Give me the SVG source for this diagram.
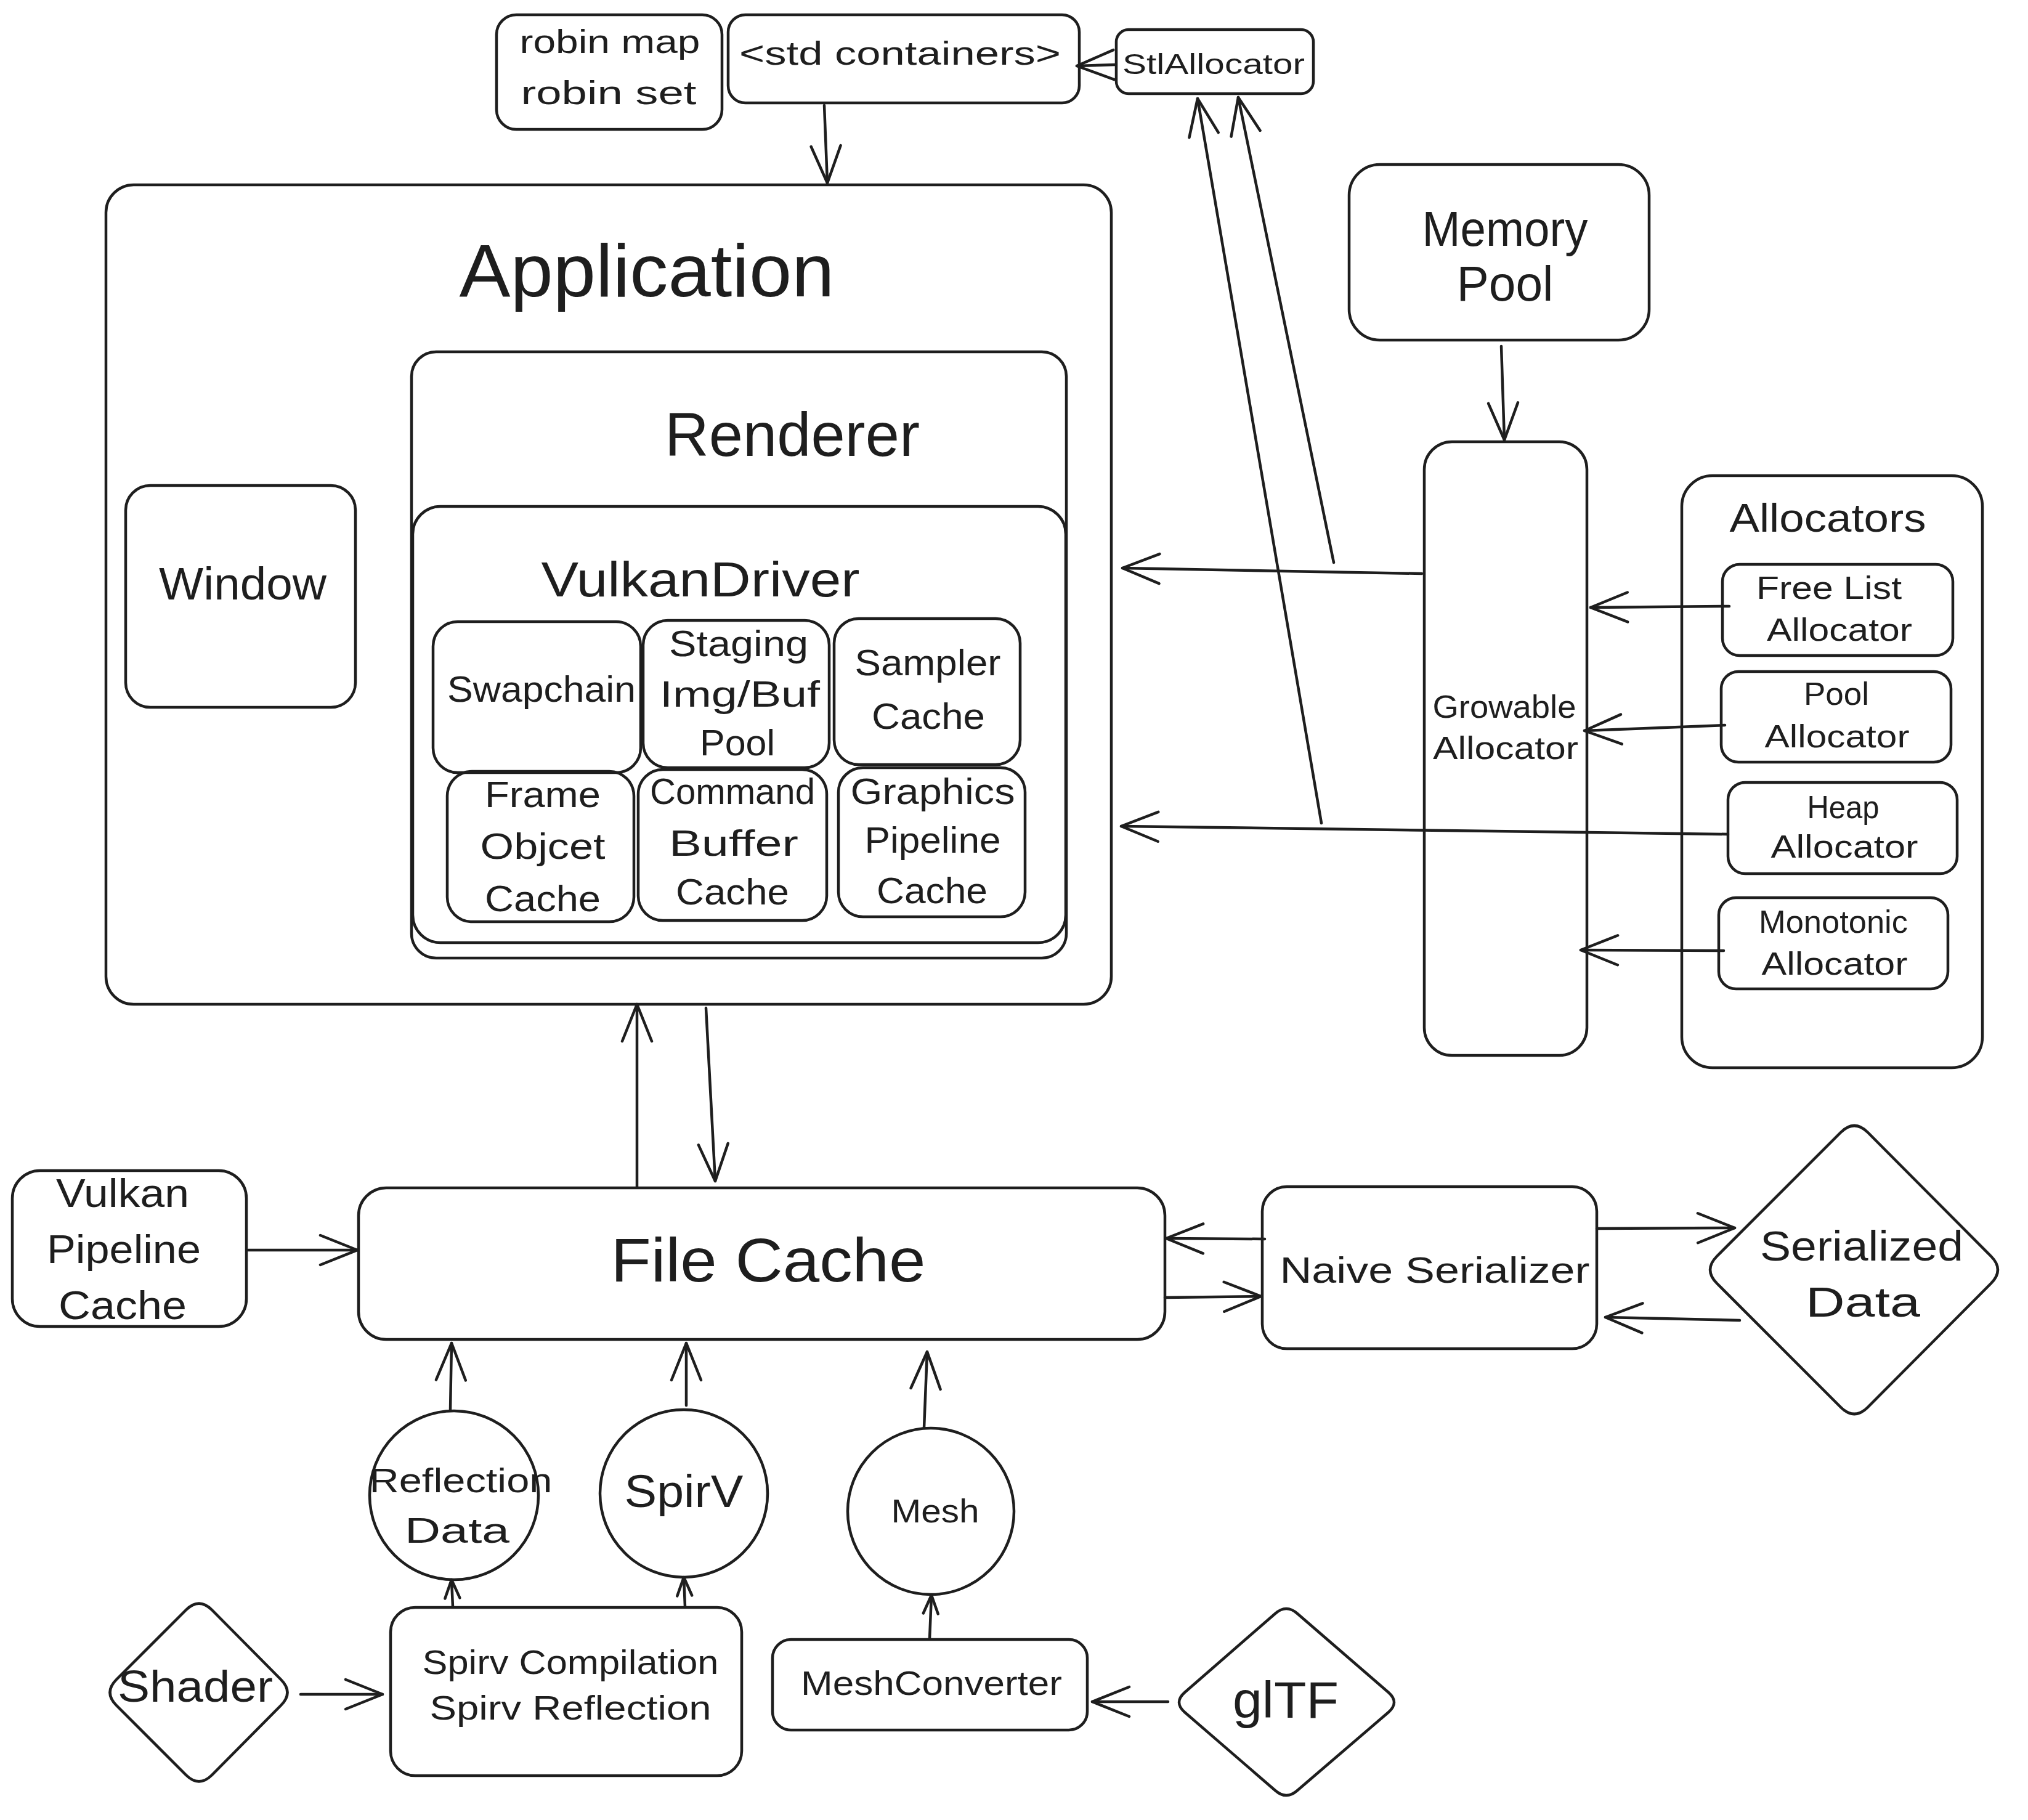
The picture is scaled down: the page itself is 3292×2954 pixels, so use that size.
<svg xmlns="http://www.w3.org/2000/svg" width="3292" height="2954" viewBox="0 0 3292 2954">
<style>
.n{fill:none;stroke:#1e1e1e;stroke-width:4.5;stroke-linejoin:round}
.t{font-family:"Liberation Sans",Arial,sans-serif;fill:#1e1e1e;text-anchor:middle}
.c{fill:none;stroke:#1e1e1e;stroke-width:4.5;stroke-linecap:round;marker-end:url(#ah)}
.cs{fill:none;stroke:#1e1e1e;stroke-width:4.5;stroke-linecap:round;marker-end:url(#ahs)}
</style>
<defs>
<marker id="ah" markerUnits="userSpaceOnUse" markerWidth="80" markerHeight="60" refX="62" refY="26" orient="auto" overflow="visible">
<path d="M2,2 L62,26 L2,50" fill="none" stroke="#1e1e1e" stroke-width="4.5" stroke-linecap="round" stroke-linejoin="round"/>
</marker>
<marker id="ahs" markerUnits="userSpaceOnUse" markerWidth="40" markerHeight="32" refX="32" refY="14" orient="auto" overflow="visible">
<path d="M2,2 L32,14 L2,26" fill="none" stroke="#1e1e1e" stroke-width="4.5" stroke-linecap="round" stroke-linejoin="round"/>
</marker>
</defs>
<rect width="3292" height="2954" fill="#ffffff"/>

<g id="robin">
<rect class="n" x="806" y="24" width="366" height="186" rx="32"/>
<text class="t" x="990" y="86" font-size="54" textLength="293" lengthAdjust="spacingAndGlyphs">robin map</text>
<text class="t" x="988" y="169" font-size="54" textLength="285" lengthAdjust="spacingAndGlyphs">robin set</text>
</g>
<g id="std-containers">
<rect class="n" x="1182" y="24" width="570" height="143" rx="28"/>
<text class="t" x="1461" y="105" font-size="54" textLength="522" lengthAdjust="spacingAndGlyphs">&lt;std containers&gt;</text>
</g>
<g id="stl-allocator">
<rect class="n" x="1812" y="48" width="320" height="104" rx="20"/>
<text class="t" x="1970" y="120" font-size="46" textLength="296" lengthAdjust="spacingAndGlyphs">StlAllocator</text>
</g>

<g id="application">
<rect class="n" x="172" y="300" width="1632" height="1330" rx="45"/>
<text class="t" x="1050" y="481" font-size="120" textLength="609" lengthAdjust="spacingAndGlyphs">Application</text>
</g>
<g id="window">
<rect class="n" x="204" y="788" width="373" height="360" rx="40"/>
<text class="t" x="394" y="973" font-size="74" textLength="272" lengthAdjust="spacingAndGlyphs">Window</text>
</g>
<g id="renderer">
<rect class="n" x="668" y="571" width="1063" height="984" rx="40"/>
<text class="t" x="1286" y="740" font-size="100" textLength="414" lengthAdjust="spacingAndGlyphs">Renderer</text>
</g>
<g id="vulkan-driver">
<rect class="n" x="670" y="822" width="1060" height="708" rx="45"/>
<text class="t" x="1137" y="968" font-size="80" textLength="517" lengthAdjust="spacingAndGlyphs">VulkanDriver</text>
</g>
<g id="swapchain">
<rect class="n" x="703" y="1009" width="337" height="245" rx="40"/>
<text class="t" x="879" y="1139" font-size="60" textLength="306" lengthAdjust="spacingAndGlyphs">Swapchain</text>
</g>
<g id="staging">
<rect class="n" x="1044" y="1007" width="302" height="239" rx="40"/>
<text class="t" x="1199" y="1065" font-size="60" textLength="226" lengthAdjust="spacingAndGlyphs">Staging</text>
<text class="t" x="1201" y="1147" font-size="60" textLength="260" lengthAdjust="spacingAndGlyphs">Img/Buf</text>
<text class="t" x="1197" y="1226" font-size="60" textLength="122" lengthAdjust="spacingAndGlyphs">Pool</text>
</g>
<g id="sampler-cache">
<rect class="n" x="1354" y="1004" width="302" height="237" rx="40"/>
<text class="t" x="1506" y="1096" font-size="60" textLength="237" lengthAdjust="spacingAndGlyphs">Sampler</text>
<text class="t" x="1507" y="1183" font-size="60" textLength="184" lengthAdjust="spacingAndGlyphs">Cache</text>
</g>
<g id="frame-object-cache">
<rect class="n" x="726" y="1252" width="303" height="244" rx="40"/>
<text class="t" x="881" y="1310" font-size="60" textLength="188" lengthAdjust="spacingAndGlyphs">Frame</text>
<text class="t" x="881" y="1394" font-size="60" textLength="203" lengthAdjust="spacingAndGlyphs">Objcet</text>
<text class="t" x="881" y="1479" font-size="60" textLength="188" lengthAdjust="spacingAndGlyphs">Cache</text>
</g>
<g id="command-buffer-cache">
<rect class="n" x="1036" y="1249" width="306" height="245" rx="40"/>
<text class="t" x="1189" y="1305" font-size="60" textLength="268" lengthAdjust="spacingAndGlyphs">Command</text>
<text class="t" x="1191" y="1389" font-size="60" textLength="210" lengthAdjust="spacingAndGlyphs">Buffer</text>
<text class="t" x="1189" y="1468" font-size="60" textLength="184" lengthAdjust="spacingAndGlyphs">Cache</text>
</g>
<g id="graphics-pipeline-cache">
<rect class="n" x="1361" y="1246" width="303" height="242" rx="40"/>
<text class="t" x="1514" y="1305" font-size="60" textLength="267" lengthAdjust="spacingAndGlyphs">Graphics</text>
<text class="t" x="1514" y="1384" font-size="60" textLength="221" lengthAdjust="spacingAndGlyphs">Pipeline</text>
<text class="t" x="1513" y="1466" font-size="60" textLength="180" lengthAdjust="spacingAndGlyphs">Cache</text>
</g>

<g id="memory-pool">
<rect class="n" x="2190" y="267" width="487" height="285" rx="50"/>
<text class="t" x="2443" y="399" font-size="80" textLength="269" lengthAdjust="spacingAndGlyphs">Memory</text>
<text class="t" x="2443" y="488" font-size="80" textLength="157" lengthAdjust="spacingAndGlyphs">Pool</text>
</g>
<g id="growable-allocator">
<rect class="n" x="2312" y="717" width="264" height="996" rx="45"/>
<text class="t" x="2442" y="1165" font-size="52" textLength="233" lengthAdjust="spacingAndGlyphs">Growable</text>
<text class="t" x="2444" y="1232" font-size="52" textLength="236" lengthAdjust="spacingAndGlyphs">Allocator</text>
</g>
<g id="allocators">
<rect class="n" x="2730" y="772" width="488" height="961" rx="50"/>
<text class="t" x="2967" y="863" font-size="64" textLength="319" lengthAdjust="spacingAndGlyphs">Allocators</text>
</g>
<g id="free-list-allocator">
<rect class="n" x="2796" y="916" width="374" height="148" rx="28"/>
<text class="t" x="2969" y="972" font-size="52" textLength="236" lengthAdjust="spacingAndGlyphs">Free List</text>
<text class="t" x="2986" y="1040" font-size="52" textLength="236" lengthAdjust="spacingAndGlyphs">Allocator</text>
</g>
<g id="pool-allocator">
<rect class="n" x="2794" y="1090" width="373" height="147" rx="28"/>
<text class="t" x="2981" y="1144" font-size="52" textLength="106" lengthAdjust="spacingAndGlyphs">Pool</text>
<text class="t" x="2982" y="1213" font-size="52" textLength="235" lengthAdjust="spacingAndGlyphs">Allocator</text>
</g>
<g id="heap-allocator">
<rect class="n" x="2805" y="1270" width="372" height="148" rx="28"/>
<text class="t" x="2992" y="1328" font-size="52" textLength="117" lengthAdjust="spacingAndGlyphs">Heap</text>
<text class="t" x="2994" y="1392" font-size="52" textLength="239" lengthAdjust="spacingAndGlyphs">Allocator</text>
</g>
<g id="monotonic-allocator">
<rect class="n" x="2790" y="1457" width="372" height="148" rx="28"/>
<text class="t" x="2976" y="1514" font-size="52" textLength="242" lengthAdjust="spacingAndGlyphs">Monotonic</text>
<text class="t" x="2978" y="1582" font-size="52" textLength="237" lengthAdjust="spacingAndGlyphs">Allocator</text>
</g>

<g id="vulkan-pipeline-cache">
<rect class="n" x="20" y="1900" width="380" height="253" rx="45"/>
<text class="t" x="199" y="1959" font-size="64" textLength="216" lengthAdjust="spacingAndGlyphs">Vulkan</text>
<text class="t" x="201" y="2050" font-size="64" textLength="250" lengthAdjust="spacingAndGlyphs">Pipeline</text>
<text class="t" x="199" y="2141" font-size="64" textLength="208" lengthAdjust="spacingAndGlyphs">Cache</text>
</g>
<g id="file-cache">
<rect class="n" x="582" y="1928" width="1309" height="246" rx="45"/>
<text class="t" x="1247" y="2080" font-size="100" textLength="511" lengthAdjust="spacingAndGlyphs">File Cache</text>
</g>
<g id="naive-serializer">
<rect class="n" x="2049" y="1926" width="543" height="263" rx="40"/>
<text class="t" x="2329" y="2082" font-size="60" textLength="503" lengthAdjust="spacingAndGlyphs">Naive Serializer</text>
</g>
<g id="serialized-data">
<path class="n" d="M2787,2039 L2988,1838 Q3010,1816 3032,1838 L3232,2039 Q3254,2061 3232,2083 L3032,2284 Q3010,2306 2988,2284 L2787,2083 Q2765,2061 2787,2039 Z"/>
<text class="t" x="3022" y="2046" font-size="68" textLength="330" lengthAdjust="spacingAndGlyphs">Serialized</text>
<text class="t" x="3024" y="2137" font-size="68" textLength="186" lengthAdjust="spacingAndGlyphs">Data</text>
</g>
<g id="reflection-data">
<circle class="n" cx="737" cy="2427" r="137"/>
<text class="t" x="748" y="2422" font-size="56" textLength="297" lengthAdjust="spacingAndGlyphs">Reflection</text>
<text class="t" x="742" y="2504" font-size="58" textLength="170" lengthAdjust="spacingAndGlyphs">Data</text>
</g>
<g id="spirv">
<circle class="n" cx="1110" cy="2424" r="136"/>
<text class="t" x="1110" y="2446" font-size="74" textLength="193" lengthAdjust="spacingAndGlyphs">SpirV</text>
</g>
<g id="mesh">
<circle class="n" cx="1511" cy="2453" r="135"/>
<text class="t" x="1518" y="2471" font-size="54" textLength="143" lengthAdjust="spacingAndGlyphs">Mesh</text>
</g>
<g id="spirv-compilation">
<rect class="n" x="634" y="2609" width="570" height="273" rx="40"/>
<text class="t" x="926" y="2717" font-size="56" textLength="481" lengthAdjust="spacingAndGlyphs">Spirv Compilation</text>
<text class="t" x="926" y="2791" font-size="56" textLength="457" lengthAdjust="spacingAndGlyphs">Spirv Reflection</text>
</g>
<g id="mesh-converter">
<rect class="n" x="1254" y="2661" width="511" height="147" rx="30"/>
<text class="t" x="1512" y="2751" font-size="56" textLength="424" lengthAdjust="spacingAndGlyphs">MeshConverter</text>
</g>
<g id="shader">
<path class="n" d="M189,2726 L302,2613 Q323,2592 344,2613 L456,2726 Q477,2747 456,2768 L344,2881 Q323,2902 302,2881 L189,2768 Q168,2747 189,2726 Z"/>
<text class="t" x="317" y="2762" font-size="72" textLength="252" lengthAdjust="spacingAndGlyphs">Shader</text>
</g>
<g id="gltf">
<path class="n" d="M1923,2747 L2070,2619 Q2088,2603 2106,2619 L2254,2747 Q2272,2763 2254,2779 L2106,2906 Q2088,2922 2070,2906 L1923,2779 Q1905,2763 1923,2747 Z"/>
<text class="t" x="2087" y="2788" font-size="84" textLength="172" lengthAdjust="spacingAndGlyphs">glTF</text>
</g>

<g id="connectors">
<path class="c" d="M1338,171 L1343,297"/>
<path class="c" d="M1810,105 L1748,107"/>
<path class="c" d="M2165,913 L2010,158"/>
<path class="c" d="M2145,1336 L1944,160"/>
<path class="c" d="M2437,562 L2442,714"/>
<path class="c" d="M2308,931 L1822,922"/>
<path class="c" d="M2805,1354 L1820,1341"/>
<path class="c" d="M2807,984 L2582,986"/>
<path class="c" d="M2800,1177 L2572,1186"/>
<path class="c" d="M2798,1543 L2566,1542"/>
<path class="c" d="M1034,1926 L1034,1630"/>
<path class="c" d="M1146,1636 L1161,1917"/>
<path class="c" d="M403,2029 L580,2029"/>
<path class="c" d="M2053,2011 L1893,2010"/>
<path class="c" d="M1891,2106 L2047,2104"/>
<path class="c" d="M2592,1994 L2816,1993"/>
<path class="c" d="M2824,2143 L2606,2138"/>
<path class="c" d="M731,2288 L733,2180"/>
<path class="c" d="M1114,2281 L1114,2180"/>
<path class="c" d="M1500,2318 L1505,2194"/>
<path class="cs" d="M735,2608 L733,2564"/>
<path class="cs" d="M1112,2608 L1110,2560"/>
<path class="cs" d="M1509,2660 L1512,2589"/>
<path class="c" d="M488,2750 L621,2750"/>
<path class="c" d="M1896,2762 L1773,2762"/>
</g>
</svg>
